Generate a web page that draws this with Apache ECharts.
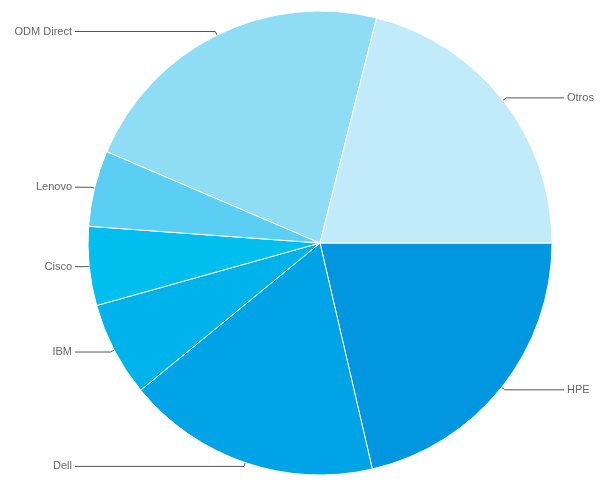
<!DOCTYPE html>
<html>
<head>
<meta charset="utf-8">
<script src="https://cdn.jsdelivr.net/npm/echarts@6/dist/echarts.min.js"></script>
<style>html,body{margin:0;padding:0;background:#fff}#c{width:616px;height:486px}</style>
</head>
<body>
<div id="c"></div>
<script>
const categories = ['HPE', 'Dell', 'IBM', 'Cisco', 'Lenovo', 'ODM Direct', 'Otros'];
const shares = [21.4, 17.7, 6.6, 5.5, 5.3, 22.5, 21.1];
const colors = ['#0096E0', '#00A3E5', '#00B2EA', '#00BFEF', '#5BCFF3', '#8FDCF5', '#C2EBF9'];

const CX = 320, LEFT_LINE_END = 75, RIGHT_LINE_END = 564, GAP = 3;

const chart = echarts.init(document.getElementById('c'), null, {renderer: 'canvas'});
chart.setOption({
  animation: false,
  series: [{
    type: 'pie',
    center: [CX, 243],
    radius: [0, 232],
    startAngle: 0,
    clockwise: true,
    avoidLabelOverlap: false,
    data: categories.map((c, i) => ({name: c, value: shares[i], itemStyle: {color: colors[i]}})),
    itemStyle: {borderColor: '#ffffff', borderWidth: 1},
    label: {
      show: true,
      position: 'outside',
      formatter: '{b}',
      color: '#666666',
      fontSize: 11,
      fontFamily: 'Liberation Sans, Arial, sans-serif',
      overflow: 'none',
      alignTo: 'none'
    },
    labelLine: {
      show: true,
      length: 4,
      length2: 10,
      smooth: false,
      lineStyle: {color: '#555555', width: 1}
    },
    labelLayout: function (params) {
      const pts = params.labelLinePoints;
      if (!pts) return {};
      const isLeft = pts[0][0] < CX;
      const endX = isLeft ? LEFT_LINE_END : RIGHT_LINE_END;
      const y = pts[1][1];
      return {
        x: isLeft ? endX - GAP : endX + GAP,
        y: y,
        align: isLeft ? 'right' : 'left',
        verticalAlign: 'middle',
        labelLinePoints: [pts[0], pts[1], [endX, y]]
      };
    },
    emphasis: {disabled: true}
  }]
});
</script>
</body>
</html>
